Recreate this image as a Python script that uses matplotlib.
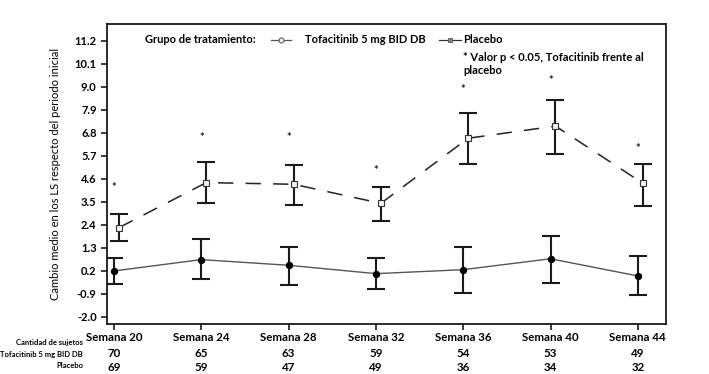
import matplotlib

matplotlib.use("Agg")
import matplotlib.pyplot as plt  # noqa: E402
import numpy as np  # noqa: E402

# datos
semanas = ["Semana 20", "Semana 24", "Semana 28", "Semana 32",
           "Semana 36", "Semana 40", "Semana 44"]
n_tofa = [70, 65, 63, 59, 54, 53, 49]
n_placebo = [69, 59, 47, 49, 36, 34, 32]

# serie discontinua (cuadrados)
disc_media = [2.27, 4.42, 4.34, 3.43, 6.54, 7.12, 4.39]
disc_sup = [2.91, 5.39, 5.26, 4.22, 7.73, 8.37, 5.31]
disc_inf = [1.63, 3.46, 3.35, 2.60, 5.29, 5.80, 3.32]
asteriscos = [4.2, 6.58, 6.58, 5.0, 8.88, 9.29, 6.06]

# serie continua (círculos)
cont_media = [0.20, 0.74, 0.47, 0.07, 0.26, 0.78, -0.04]
cont_sup = [0.83, 1.73, 1.36, 0.82, 1.36, 1.88, 0.90]
cont_inf = [-0.42, -0.19, -0.47, -0.65, -0.84, -0.38, -0.95]

yticks = [-2.0, -0.9, 0.2, 1.3, 2.4, 3.5, 4.6, 5.7, 6.8, 7.9, 9.0, 10.1, 11.2]

FUENTE = "Lato"
TINTA = "#1a1a1a"
plt.rcParams.update({"font.family": FUENTE, "font.weight": "bold",
                     "font.size": 8})

fig = plt.figure(figsize=(7.09, 3.74), dpi=100)
ax = fig.add_axes([0.151, 0.134, 0.788, 0.802])

x = np.arange(len(semanas))
dx = 0.057

# serie discontinua
md = np.array(disc_media)
ax.errorbar(x + dx, md, yerr=[md - np.array(disc_inf), np.array(disc_sup) - md],
            fmt="none", ecolor=TINTA, elinewidth=1.5, capsize=6.5, capthick=1.5,
            zorder=3)
ax.plot(x + dx, md, color="#222222", lw=1.1, dashes=(10, 8), zorder=2)
ax.plot(x + dx, md, ls="none", marker="s", ms=4.2, mfc="#f2f2f2",
        mec="#333333", mew=0.8, zorder=4)

# serie continua
mc = np.array(cont_media)
ax.errorbar(x, mc, yerr=[mc - np.array(cont_inf), np.array(cont_sup) - mc],
            fmt="none", ecolor=TINTA, elinewidth=1.5, capsize=6.5, capthick=1.5,
            zorder=3)
ax.plot(x, mc, color="#555555", lw=1.0, zorder=2)
ax.plot(x, mc, ls="none", marker="o", ms=4.3, color="black", zorder=4)

for xi, yi in zip(x, asteriscos):
    ax.text(xi, yi, "*", ha="center", va="center", fontsize=8, color=TINTA)

ax.set_xlim(-0.08, 6.32)
ax.set_ylim(-2.33, 12.0)
ax.set_yticks(yticks, [f"{v:.1f}" for v in yticks], fontsize=8)
ax.set_xticks(x, [])
ax.tick_params(axis="both", direction="out", length=4, width=1.2, color=TINTA)
for s in ax.spines.values():
    s.set_linewidth(1.3)
    s.set_color(TINTA)
ax.set_ylabel("Cambio medio en los LS respecto del periodo inicial",
              fontsize=8, labelpad=10)

# tabla de sujetos bajo el eje
trans = ax.get_xaxis_transform()
for xi, sem, a, b in zip(x, semanas, n_tofa, n_placebo):
    ax.text(xi, -0.045, sem, transform=trans, ha="center", va="center", fontsize=8.3)
    ax.text(xi, -0.1, str(a), transform=trans, ha="center", va="center", fontsize=8.3)
    ax.text(xi, -0.147, str(b), transform=trans, ha="center", va="center", fontsize=8.3)
for yy, t in [(0.085, "Cantidad de sujetos"), (0.053, "Tofacitinib 5 mg BID DB"),
              (0.024, "Placebo")]:
    fig.text(0.117, yy, t, ha="right", va="center", fontsize=5.5)

# leyenda manual
ya = 0.948
ax.text(0.068, ya, "Grupo de tratamiento:", transform=ax.transAxes,
        ha="left", va="center", fontsize=8)
ax.plot([0.293, 0.33], [ya, ya], transform=ax.transAxes, color="#555555",
        lw=0.9, clip_on=False)
ax.plot([0.311], [ya], transform=ax.transAxes, marker="o", ms=3.5, mfc="white",
        mec="#555555", mew=0.8, clip_on=False)
ax.text(0.355, ya, "Tofacitinib 5 mg BID DB", transform=ax.transAxes,
        ha="left", va="center", fontsize=8)
ax.plot([0.594, 0.634], [ya, ya], transform=ax.transAxes, color="#333333",
        lw=0.9, clip_on=False)
ax.plot([0.614], [ya], transform=ax.transAxes, marker="s", ms=3.2, color="#888888",
        mec="#555555", mew=0.6, clip_on=False)
ax.text(0.637, ya, "Placebo", transform=ax.transAxes, ha="left", va="center",
        fontsize=8)
ax.text(0.637, 0.905, "* Valor p < 0.05, Tofacitinib frente al\nplacebo",
        transform=ax.transAxes, ha="left", va="top", fontsize=8, linespacing=1.15)

fig.savefig("out.png", dpi=100)
